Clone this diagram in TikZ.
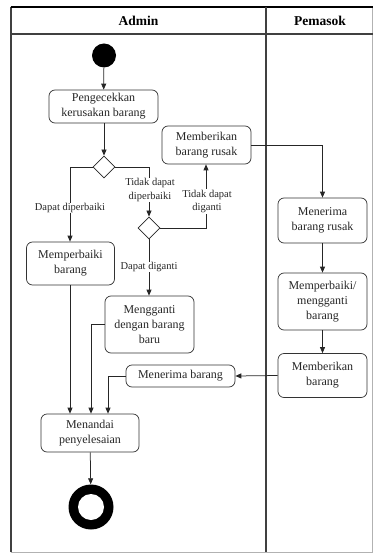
\documentclass[tikz,border=0pt]{standalone}
\usepackage{fontspec}
\setmainfont{Liberation Serif}
\usetikzlibrary{arrows.meta,shapes.geometric}
\begin{document}
\begin{tikzpicture}[x=1pt,y=-1pt,
  act/.style={draw=black!80, line width=0.7pt, rounded corners=6pt, align=center,
    inner sep=1pt, font=\fontsize{12}{15}\selectfont, text=black!85},
  dec/.style={draw=black!85, line width=0.8pt, diamond, aspect=1, minimum width=22pt, minimum height=22pt, inner sep=0pt},
  lbl/.style={fill=white, inner sep=0.5pt, align=center, font=\fontsize{10.5}{13.5}\selectfont, text=black!85},
  flow/.style={draw=black!85, line width=0.75pt, -{Triangle[length=6pt,width=5pt]}},
  lane/.style={draw=black!75, line width=1.1pt}]
\useasboundingbox (0,0) rectangle (373,553);
% swimlanes
\draw[draw=black!30, line width=0.6pt] (372,7) -- (372,552) -- (11,552);
\draw[lane] (11,552) -- (11,7);
\draw[draw=black, line width=1.8pt] (10.5,7) -- (373,7);
\draw[lane] (11,34) -- (373,34);
\draw[lane] (266,7) -- (266,552);
\node[font=\bfseries\fontsize{13.5}{15}\selectfont] (hA) at (138.5,21) {Admin};
\node[font=\bfseries\fontsize{13.5}{15}\selectfont] (hP) at (320,21) {Pemasok};
% nodes
\node[circle, fill=black, minimum size=24pt, inner sep=0pt] (start) at (104,55.5) {};
\node[act, minimum width=109pt, minimum height=33pt] (check) at (103.5,106.5) {Pengecekkan\\kerusakan barang};
\node[dec] (d1) at (104,167) {};
\node[act, minimum width=89pt, minimum height=38pt] (give) at (206.5,145) {Memberikan\\barang rusak};
\node[dec] (d2) at (149,228) {};
\node[act, minimum width=88pt, minimum height=43pt] (repair) at (70.5,263.5) {Memperbaiki\\barang};
\node[act, minimum width=89pt, minimum height=57pt] (replace) at (149.5,324.5) {Mengganti\\dengan barang\\baru};
\node[act, minimum width=109pt, minimum height=22pt] (recv) at (180.5,376) {Menerima barang};
\node[act, minimum width=98pt, minimum height=38pt] (mark) at (90,433) {Menandai\\penyelesaian};
\node[circle, fill=black, minimum size=45pt, inner sep=0pt] (end) at (91,507) {};
\node[circle, fill=white, minimum size=26pt, inner sep=0pt] (endin) at (end.center) {};
\node[act, minimum width=89pt, minimum height=45pt] (p1) at (322.5,220.5) {Menerima\\barang rusak};
\node[act, minimum width=89pt, minimum height=57pt] (p2) at (322.5,301.5) {Memperbaiki/\\mengganti\\barang};
\node[act, minimum width=89pt, minimum height=44pt] (p3) at (322.5,375.5) {Memberikan\\barang};
% connectors
\draw[flow] (start) -- (check);
\draw[flow] (check.south -| d1) -- (d1.north);
\draw[flow] (d1.west) -| (repair.north -| 70,0);
\draw[flow] (d1.east) -| (d2.north);
\draw[flow] (d2.east) -| (give.south -| 206,0);
\draw[flow] (d2.south) -- (replace.north -| d2);
\draw[flow] (give.east) -| (p1.north);
\draw[flow] (p1) -- (p2);
\draw[flow] (p2) -- (p3);
\draw[flow] (p3.west) -- (recv.east);
\draw[flow] (repair.south -| 70,0) -- (mark.north -| 70,0);
\draw[flow] (replace.west) -| (mark.north -| 91,0);
\draw[flow] (recv.west) -| (mark.north -| 108,0);
\draw[flow] (mark) -- (end);
% labels
\node[lbl] (l1) at (70,208) {Dapat diperbaiki};
\node[lbl] (l2) at (150,190) {Tidak dapat\\diperbaiki};
\node[lbl] (l3) at (207,201.5) {Tidak dapat\\diganti};
\node[lbl] (l4) at (149,267) {Dapat diganti};
\end{tikzpicture}
\end{document}
